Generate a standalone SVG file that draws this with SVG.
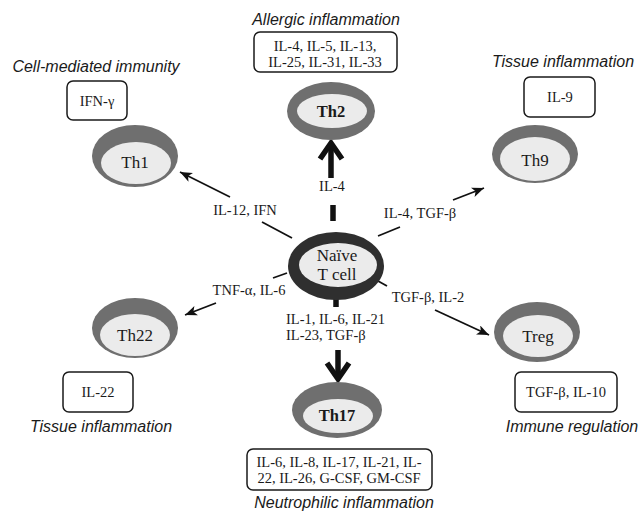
<svg xmlns="http://www.w3.org/2000/svg" width="641" height="513" viewBox="0 0 641 513">
<defs>
<style>
.ring{fill:#6f6f6f}
.core{fill:#ebebeb}
.cell{font-family:"Liberation Serif","Times New Roman",serif;font-size:17px;fill:#1a1a1a;text-anchor:middle}
.bold{font-weight:bold;font-size:16.5px}
.lbl{font-family:"Liberation Serif","Times New Roman",serif;font-size:14.5px;fill:#1a1a1a;text-anchor:middle}
.cap{font-family:"Liberation Sans",Arial,sans-serif;font-size:16px;font-style:italic;fill:#1a1a1a;text-anchor:middle}
.box{fill:#fff;stroke:#1a1a1a;stroke-width:1.5}
.thin{stroke:#111;stroke-width:1.8;fill:none}
.thick{stroke:#111;stroke-width:5.5;fill:none}
</style>
<marker id="ah" markerUnits="userSpaceOnUse" markerWidth="14" markerHeight="12" refX="12" refY="5" orient="auto">
<path d="M0,0 L12,5 L0,10 L3,5 Z" fill="#111"/>
</marker>
</defs>
<rect width="641" height="513" fill="#fff"/>

<g id="connectors">
<line class="thin" x1="262" y1="222" x2="292" y2="238"/>
<line class="thin" x1="230" y1="197" x2="180" y2="172" marker-end="url(#ah)"/>
<line class="thin" x1="378" y1="236" x2="400" y2="227"/>
<line class="thin" x1="453" y1="200" x2="484" y2="188" marker-end="url(#ah)"/>
<line class="thin" x1="273" y1="278" x2="287" y2="273"/>
<line class="thin" x1="216" y1="303" x2="185" y2="315" marker-end="url(#ah)"/>
<line class="thin" x1="378" y1="281" x2="387" y2="286"/>
<line class="thin" x1="435" y1="310" x2="489" y2="335" marker-end="url(#ah)"/>
<line class="thick" x1="333" y1="205" x2="333" y2="221"/>
<line class="thick" x1="331" y1="178" x2="331" y2="143"/>
<polyline class="thick" points="320,159 331,143 342,159" stroke-linejoin="miter"/>
<line class="thick" x1="336" y1="290" x2="336" y2="307"/>
<line class="thick" x1="338" y1="350" x2="338" y2="378"/>
<polyline class="thick" points="327,363 338,379 349,363" stroke-linejoin="miter"/>
<text class="lbl" x="245" y="215">IL-12, IFN</text>
<text class="lbl" x="332" y="191">IL-4</text>
<text class="lbl" x="420" y="218">IL-4, TGF-β</text>
<text class="lbl" x="249" y="295">TNF-α, IL-6</text>
<text class="lbl" x="428" y="302">TGF-β, IL-2</text>
<text class="lbl" x="286" y="324" style="text-anchor:start">IL-1, IL-6, IL-21</text>
<text class="lbl" x="286" y="340" style="text-anchor:start">IL-23, TGF-β</text>
</g>

<g id="naive">
<ellipse cx="336" cy="266" rx="48" ry="34" fill="#2f2f2f"/>
<ellipse class="core" cx="338" cy="265" rx="39" ry="22"/>
<text class="cell" x="337" y="261">Naïve</text>
<text class="cell" x="337" y="280">T cell</text>
</g>

<g id="th1">
<ellipse class="ring" cx="135" cy="156" rx="43" ry="31"/>
<ellipse class="core" cx="136" cy="163" rx="35" ry="21"/>
<text class="cell" x="135" y="168">Th1</text>
<rect class="box" x="67" y="81" width="60" height="39" rx="6"/>
<text class="lbl" x="97" y="106">IFN-γ</text>
<text class="cap" x="96" y="72">Cell-mediated immunity</text>
</g>

<g id="th2">
<ellipse class="ring" cx="331" cy="111" rx="44" ry="29"/>
<ellipse class="core" cx="332" cy="111" rx="35" ry="17"/>
<text class="cell bold" x="331" y="117">Th2</text>
<rect class="box" x="254" y="32" width="143" height="40" rx="6"/>
<text class="lbl" x="325" y="51">IL-4, IL-5, IL-13,</text>
<text class="lbl" x="325" y="67">IL-25, IL-31, IL-33</text>
<text class="cap" x="326" y="25">Allergic inflammation</text>
</g>

<g id="th9">
<ellipse class="ring" cx="535" cy="154" rx="43" ry="29"/>
<ellipse class="core" cx="535" cy="159" rx="35" ry="22"/>
<text class="cell" x="535" y="166">Th9</text>
<rect class="box" x="524" y="77" width="71" height="40" rx="6"/>
<text class="lbl" x="560" y="102">IL-9</text>
<text class="cap" x="563" y="67">Tissue inflammation</text>
</g>

<g id="th22">
<ellipse class="ring" cx="135" cy="328" rx="43" ry="30"/>
<ellipse class="core" cx="135" cy="335" rx="35" ry="21"/>
<text class="cell" x="135" y="341">Th22</text>
<rect class="box" x="63" y="372" width="70" height="40" rx="6"/>
<text class="lbl" x="98" y="397">IL-22</text>
<text class="cap" x="101" y="432">Tissue inflammation</text>
</g>

<g id="treg">
<ellipse class="ring" cx="537" cy="332" rx="43" ry="30"/>
<ellipse class="core" cx="538" cy="336" rx="35" ry="21"/>
<text class="cell" x="538" y="342">Treg</text>
<rect class="box" x="515" y="372" width="102" height="40" rx="6"/>
<text class="lbl" x="566" y="397">TGF-β, IL-10</text>
<text class="cap" x="572" y="432">Immune regulation</text>
</g>

<g id="th17">
<ellipse class="ring" cx="337" cy="410" rx="45" ry="28"/>
<ellipse class="core" cx="338" cy="416" rx="35" ry="17"/>
<text class="cell bold" x="337" y="421">Th17</text>
<rect class="box" x="247" y="449" width="185" height="41" rx="6"/>
<text class="lbl" x="339" y="467">IL-6, IL-8, IL-17, IL-21, IL-</text>
<text class="lbl" x="339" y="483">22, IL-26, G-CSF, GM-CSF</text>
<text class="cap" x="344" y="508">Neutrophilic inflammation</text>
</g>
</svg>
